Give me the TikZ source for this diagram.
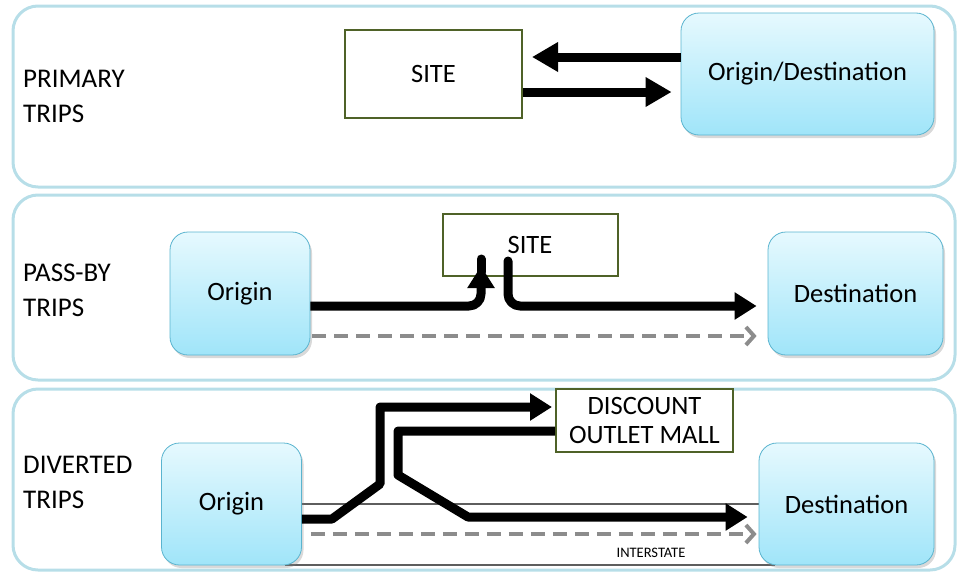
\documentclass[tikz,border=0pt]{standalone}
\usepackage{fontspec}
\setmainfont{Carlito}
\usetikzlibrary{arrows.meta,shadows}
\pgfdeclarelayer{background}
\pgfsetlayers{background,main}
\definecolor{panelblue}{HTML}{B7DEE8}
\definecolor{sitegreen}{HTML}{4F6228}
\definecolor{placeedge}{HTML}{5AB4CF}
\definecolor{placetop}{HTML}{E6F9FE}
\definecolor{placebottom}{HTML}{A0E5F9}
\definecolor{dashgray}{HTML}{8C8C8C}
\definecolor{roadgray}{HTML}{5E5E5E}
\begin{document}
\begin{tikzpicture}[x=1pt,y=-1pt,
panel/.style={draw=panelblue, line width=3pt, rounded corners=25pt, minimum width=942pt, inner sep=0},
site/.style={draw=sitegreen, line width=2pt, fill=white, align=center, inner sep=0, font=\fontsize{26.5}{29}\selectfont},
place/.style={draw=placeedge, line width=0.8pt, rounded corners=18pt, top color=placetop, bottom color=placebottom, drop shadow={shadow xshift=2pt, shadow yshift=-3pt, opacity=0.3}, inner sep=0, font=\fontsize{26.5}{29}\selectfont},
triplabel/.style={anchor=west, align=left, inner sep=0, font=\fontsize{27}{35}\selectfont},
bigarrow/.style={line width=9pt, line join=round, -{Triangle[length=22pt,width=26pt]}},
bypass/.style={draw=dashgray, line width=4pt, dash pattern=on 14pt off 8pt, -{Straight Barb[length=8pt,width=18pt]}},
road/.style={draw=roadgray, line width=2pt}]

\useasboundingbox (0,0) rectangle (957,573);

\node[panel, minimum height=181pt] (primary) at (484,96.5) {};
\node[panel, minimum height=185pt] (passby) at (484,287.5) {};
\node[panel, minimum height=181pt] (diverted) at (484,479.5) {};

\node[triplabel] (primarylabel) at (23,96) {PRIMARY\\TRIPS};
\node[triplabel] (passbylabel) at (23,290) {PASS-BY\\TRIPS};
\node[triplabel] (divertedlabel) at (23,482) {DIVERTED\\TRIPS};

\node[site, minimum width=177pt, minimum height=88pt] (site1) at (433.5,74) {SITE};
\node[place, minimum width=253pt, minimum height=122pt] (od1) at (807.5,74) {Origin/Destination};
\draw[bigarrow, -{Triangle[length=26pt,width=28pt]}, shorten >=9pt] (od1.west |- 0,57) -- (site1.east |- 0,57);
\draw[bigarrow, -{Triangle[length=26pt,width=28pt]}, shorten >=9pt] (site1.east |- 0,92) -- (od1.west |- 0,92);

\node[site, minimum width=175pt, minimum height=62pt] (site2) at (530,245) {SITE};
\node[place, minimum width=140pt, minimum height=123pt] (orig2) at (240,293.5) {Origin};
\node[place, minimum width=175pt, minimum height=123pt] (dest2) at (855.5,293.5) {Destination};
\coordinate (enter2) at (481,266);
\coordinate (leave2) at (508,261);
\draw[bigarrow, rounded corners=12pt] (orig2.east |- 0,306) -- (enter2 |- 0,306) -- (enter2);
\draw[line width=9pt, line cap=round] (481,272) -- (481,259);
\draw[bigarrow, line cap=round, rounded corners=12pt, shorten >=11pt] (leave2) -- (leave2 |- 0,306) -- (dest2.west |- 0,306);
\draw[bypass, shorten <=2pt, shorten >=11pt] (orig2.east |- 0,336) -- (dest2.west |- 0,336);

\node[site, minimum width=177pt, minimum height=63pt] (mall) at (644.5,420.5) {DISCOUNT\\OUTLET MALL};
\node[place, minimum width=140pt, minimum height=122pt] (orig3) at (231.5,504) {Origin};
\node[place, minimum width=175pt, minimum height=122pt] (dest3) at (846.5,504) {Destination};
\begin{pgfonlayer}{background}
\draw[road] (orig3.east |- 0,504) -- (dest3.west |- 0,504);
\draw[road, shorten <=-17pt, shorten >=-16pt] (orig3.south east) -- (dest3.south west);
\end{pgfonlayer}
\node[inner sep=0, font=\fontsize{14.5}{16}\selectfont] (interstate) at (651,553) {INTERSTATE};
\draw[bigarrow, shorten >=3pt] (orig3.east |- 0,519) -- (332,519) -- (380,484) -- (380,407) -- (mall.west |- 0,407);
\draw[bigarrow, shorten >=11pt] (mall.west |- 0,431) -- (398,431) -- (398,475) -- (468,517) -- (dest3.west |- 0,517);
\draw[bypass, shorten <=9pt, shorten >=2pt] (orig3.east |- 0,534) -- (dest3.west |- 0,534);
\end{tikzpicture}
\end{document}
